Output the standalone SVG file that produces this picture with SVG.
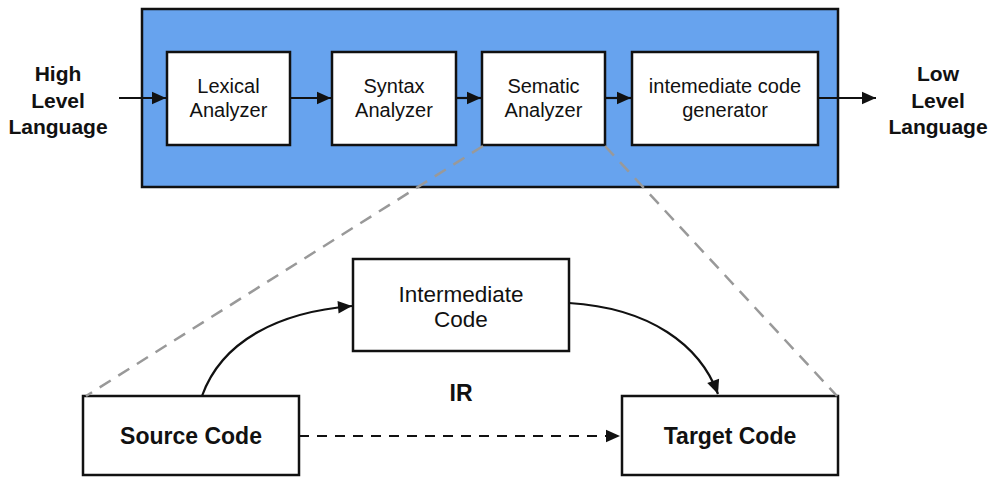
<svg xmlns="http://www.w3.org/2000/svg" width="999" height="484" viewBox="0 0 999 484">
<defs>
<style>
.box{fill:#fff;stroke:#111;stroke-width:2.5}
.t{font-family:"Liberation Sans",Arial,sans-serif;font-size:20px;fill:#111;text-anchor:middle}
.tl{font-family:"Liberation Sans",Arial,sans-serif;font-size:22.5px;fill:#111;text-anchor:middle}
.b{font-family:"Liberation Sans",Arial,sans-serif;font-size:21px;font-weight:bold;fill:#111;text-anchor:middle}
.bl{font-family:"Liberation Sans",Arial,sans-serif;font-size:23px;font-weight:bold;fill:#111;text-anchor:middle}
.ln{fill:none;stroke:#111;stroke-width:2.2}
.gd{fill:none;stroke:#999;stroke-width:2.5;stroke-dasharray:13,9}
</style>
<marker id="ah2" viewBox="0 0 10 10" refX="10" refY="5" markerWidth="16" markerHeight="14" orient="auto" markerUnits="userSpaceOnUse">
<path d="M0,0.5 L10,5 L0,9.5 z" fill="#111"/>
</marker>
</defs>
<rect width="999" height="484" fill="#fff"/>
<g id="compiler">
<rect x="142" y="9" width="696" height="178" fill="#67a3ee" stroke="#111" stroke-width="2.5"/>
</g>
<g id="high-level">
<text class="b" x="58" y="81">High</text>
<text class="b" x="58" y="108">Level</text>
<text class="b" x="58" y="134">Language</text>
</g>
<g id="low-level">
<text class="b" x="938" y="81">Low</text>
<text class="b" x="938" y="108">Level</text>
<text class="b" x="938" y="134">Language</text>
</g>
<g id="lexical">
<rect class="box" x="167" y="52" width="123" height="93"/>
<text class="t" x="228.5" y="93">Lexical</text>
<text class="t" x="228.5" y="117">Analyzer</text>
</g>
<g id="syntax">
<rect class="box" x="332" y="52" width="124" height="93"/>
<text class="t" x="394" y="93">Syntax</text>
<text class="t" x="394" y="117">Analyzer</text>
</g>
<g id="sematic">
<rect class="box" x="482" y="52" width="123" height="93"/>
<text class="t" x="543.5" y="93">Sematic</text>
<text class="t" x="543.5" y="117">Analyzer</text>
</g>
<g id="icg">
<rect class="box" x="632" y="52" width="186" height="93"/>
<text class="t" x="725" y="93">intemediate code</text>
<text class="t" x="725" y="117">generator</text>
</g>
<g id="intermediate">
<rect class="box" x="353" y="259" width="216" height="92"/>
<text class="tl" x="461" y="302">Intermediate</text>
<text class="tl" x="461" y="327">Code</text>
</g>
<g id="ir">
<text class="bl" x="461" y="401">IR</text>
</g>
<g id="source">
<rect class="box" x="83" y="396" width="216" height="79"/>
<text class="bl" x="191" y="444">Source Code</text>
</g>
<g id="target">
<rect class="box" x="622" y="396" width="216" height="79"/>
<text class="bl" x="730" y="444">Target Code</text>
</g>
<g id="connectors">
<line class="ln" x1="119" y1="98" x2="166" y2="98" marker-end="url(#ah2)"/>
<line class="ln" x1="290" y1="98" x2="331" y2="98" marker-end="url(#ah2)"/>
<line class="ln" x1="456" y1="98" x2="481" y2="98" marker-end="url(#ah2)"/>
<line class="ln" x1="605" y1="98" x2="631" y2="98" marker-end="url(#ah2)"/>
<line class="ln" x1="818" y1="98" x2="876" y2="98" marker-end="url(#ah2)"/>
<path class="ln" d="M202,396 C222,340 280,312 352,306" marker-end="url(#ah2)"/>
<path class="ln" d="M569,303 C650,308 700,345 718,394" marker-end="url(#ah2)"/>
<line class="ln" x1="299" y1="436" x2="620" y2="436" stroke-dasharray="10,8" marker-end="url(#ah2)"/>
<line class="gd" x1="483" y1="146" x2="86" y2="396"/>
<line class="gd" x1="605" y1="146" x2="837" y2="396"/>
</g>
</svg>
